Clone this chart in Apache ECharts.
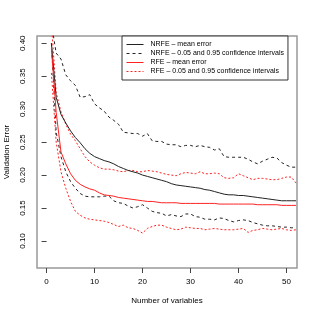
<!DOCTYPE html>
<html><head><meta charset="utf-8">
<script src="https://cdn.jsdelivr.net/npm/echarts@6/dist/echarts.min.js"></script>
<style>html,body{margin:0;padding:0;background:#fff}#c{width:315px;height:315px}</style>
</head><body><div id="c"></div>
<script>
const nVars = [];
for (let i = 1; i <= 52; i++) nVars.push(i);
const xTicks = [0, 10, 20, 30, 40, 50];
const yTicks = [0.10, 0.15, 0.20, 0.25, 0.30, 0.35, 0.40];

const nrfeMean = [0.400,0.318,0.292,0.279,0.267,0.257,0.249,0.240,0.233,0.228,
  0.225,0.222,0.220,0.217,0.213,0.210,0.207,0.205,0.203,0.200,
  0.198,0.196,0.194,0.192,0.190,0.187,0.185,0.184,0.183,0.182,
  0.181,0.180,0.178,0.177,0.175,0.173,0.171,0.170,0.170,0.169,
  0.169,0.168,0.167,0.166,0.165,0.164,0.163,0.162,0.161,0.161,0.161,0.161];
const nrfeUpper = [0.430,0.385,0.376,0.352,0.343,0.336,0.318,0.319,0.322,0.308,
  0.302,0.297,0.288,0.283,0.277,0.265,0.264,0.263,0.263,0.259,
  0.263,0.252,0.251,0.251,0.247,0.246,0.246,0.243,0.245,0.245,
  0.243,0.245,0.243,0.242,0.238,0.240,0.228,0.227,0.227,0.227,
  0.227,0.224,0.220,0.217,0.221,0.224,0.227,0.226,0.219,0.215,0.212,0.212];
const nrfeLower = [0.400,0.265,0.228,0.205,0.190,0.180,0.172,0.168,0.167,0.167,
  0.167,0.168,0.168,0.161,0.158,0.157,0.153,0.150,0.152,0.155,
  0.150,0.145,0.143,0.142,0.138,0.140,0.138,0.137,0.141,0.141,
  0.137,0.136,0.133,0.133,0.132,0.135,0.134,0.131,0.129,0.131,
  0.132,0.131,0.128,0.126,0.124,0.123,0.123,0.122,0.121,0.121,0.120,0.120];
const rfeMean = [0.392,0.295,0.235,0.217,0.202,0.192,0.186,0.182,0.179,0.177,
  0.173,0.170,0.169,0.168,0.166,0.165,0.164,0.163,0.162,0.161,
  0.160,0.160,0.159,0.158,0.158,0.158,0.158,0.157,0.157,0.157,
  0.157,0.157,0.157,0.157,0.157,0.156,0.156,0.156,0.156,0.156,
  0.156,0.156,0.156,0.155,0.155,0.155,0.155,0.155,0.154,0.154,0.154,0.154];
const rfeUpper = [0.430,0.325,0.296,0.277,0.262,0.252,0.240,0.228,0.220,0.215,
  0.211,0.209,0.209,0.208,0.206,0.205,0.207,0.207,0.205,0.205,
  0.207,0.206,0.205,0.203,0.201,0.200,0.199,0.202,0.204,0.203,
  0.202,0.205,0.202,0.202,0.203,0.202,0.196,0.195,0.196,0.202,
  0.199,0.196,0.193,0.195,0.195,0.194,0.193,0.193,0.195,0.197,0.197,0.188];
const rfeLower = [0.355,0.250,0.205,0.180,0.160,0.145,0.139,0.135,0.133,0.132,
  0.131,0.130,0.128,0.125,0.122,0.124,0.120,0.119,0.116,0.112,
  0.119,0.122,0.124,0.124,0.121,0.119,0.117,0.118,0.121,0.120,
  0.119,0.119,0.117,0.118,0.119,0.118,0.117,0.117,0.117,0.118,
  0.119,0.113,0.116,0.117,0.119,0.118,0.117,0.118,0.119,0.117,0.116,0.117];

const labels = ['NRFE \u2013 mean error','NRFE \u2013 0.05 and 0.95 confidence intervals',
  'RFE \u2013 mean error','RFE \u2013 0.05 and 0.95 confidence intervals'];

const pair = a => nVars.map((x, i) => [x, a[i]]);
const FONT = 'Liberation Sans';
function ln(name, data, color, type) {
  return { name, type: 'line', data: pair(data), symbol: 'none', showSymbol: false,
    lineStyle: { color, width: 1, type }, itemStyle: { color }, animation: false, z: 3 };
}
const series = [
  ln(labels[1], nrfeUpper, '#222', [3, 3]),
  ln(labels[1], nrfeLower, '#222', [3, 3]),
  ln(labels[3], rfeUpper, '#ff2020', [2, 2]),
  ln(labels[3], rfeLower, '#ff2020', [2, 2]),
  ln(labels[0], nrfeMean, '#222', 'solid'),
  ln(labels[2], rfeMean, '#ff2020', 'solid')
];

const chart = echarts.init(document.getElementById('c'), null, { renderer: 'canvas' });
chart.setOption({
  animation: false,
  backgroundColor: '#fff',
  grid: { left: 37, top: 36, right: 18, bottom: 47, show: true, borderColor: '#999', borderWidth: 1.5,
    backgroundColor: 'transparent', outerBoundsMode: 'none', containLabel: false },
  legend: {
    data: labels, orient: 'vertical', left: 122, top: 36, width: 173,
    backgroundColor: '#fff', borderColor: '#333', borderWidth: 1,
    padding: [5, 4, 5, 4], itemGap: 2, itemWidth: 17, itemHeight: 7,
    itemStyle: { opacity: 0 },
    lineStyle: { width: 1 },
    textStyle: { fontFamily: FONT, fontSize: 7, color: '#000', padding: [0, 0, 0, 2] },
    selectedMode: false, z: 10
  },
  xAxis: {
    type: 'value', min: -2, max: 52.2,
    name: 'Number of variables', nameLocation: 'middle', nameGap: 29,
    nameTextStyle: { fontFamily: FONT, fontSize: 8, color: '#000' },
    axisLine: { show: false }, splitLine: { show: false },
    axisTick: { show: true, length: 5, lineStyle: { color: '#444' }, customValues: xTicks },
    axisLabel: { customValues: xTicks, fontFamily: FONT, fontSize: 8, color: '#000', margin: 10 }
  },
  yAxis: {
    type: 'value', min: 0.059, max: 0.411,
    name: 'Validation Error', nameLocation: 'middle', nameGap: 26, nameRotate: 90,
    nameTextStyle: { fontFamily: FONT, fontSize: 8, color: '#000' },
    axisLine: { show: false }, splitLine: { show: false },
    axisTick: { show: true, length: 5, lineStyle: { color: '#444' }, customValues: yTicks },
    axisLabel: { customValues: yTicks, rotate: 90, fontFamily: FONT, fontSize: 8, color: '#000', margin: 10,
      formatter: v => v.toFixed(2) }
  },
  series
});
</script></body></html>
